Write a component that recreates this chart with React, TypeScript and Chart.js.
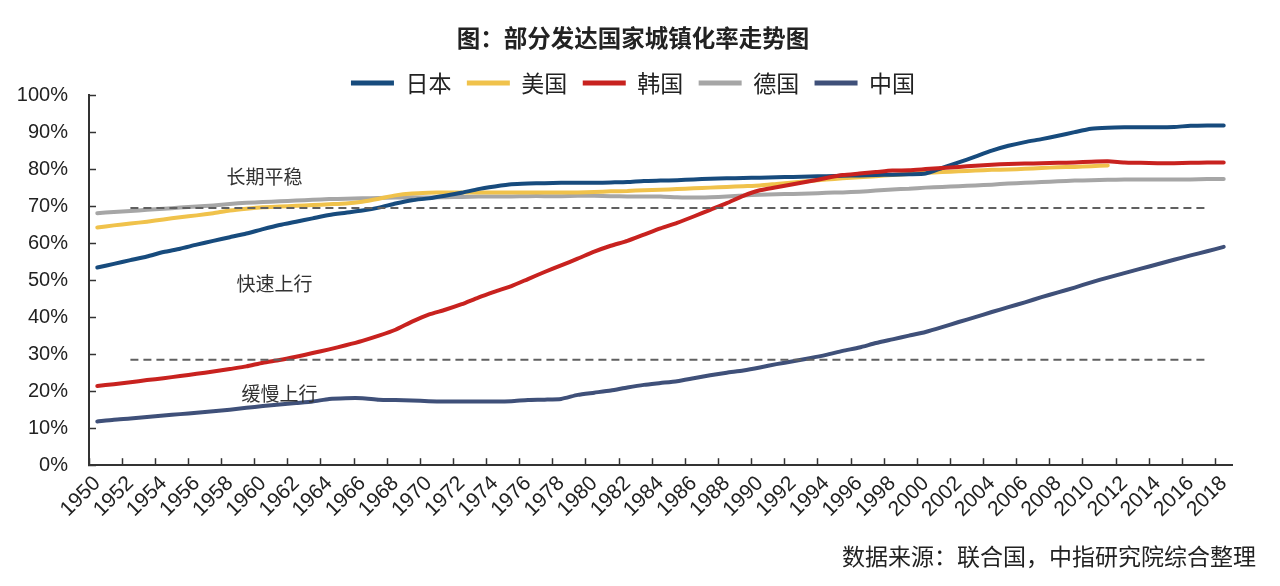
import React, { useEffect, useRef } from 'react';
import { Chart, registerables } from 'chart.js';

Chart.register(...registerables);

const years = [
  '1950', '1951', '1952', '1953', '1954', '1955', '1956', '1957', '1958', '1959',
  '1960', '1961', '1962', '1963', '1964', '1965', '1966', '1967', '1968', '1969',
  '1970', '1971', '1972', '1973', '1974', '1975', '1976', '1977', '1978', '1979',
  '1980', '1981', '1982', '1983', '1984', '1985', '1986', '1987', '1988', '1989',
  '1990', '1991', '1992', '1993', '1994', '1995', '1996', '1997', '1998', '1999',
  '2000', '2001', '2002', '2003', '2004', '2005', '2006', '2007', '2008', '2009',
  '2010', '2011', '2012', '2013', '2014', '2015', '2016', '2017', '2018',
];

const japan = [
  53.4, 54.4, 55.4, 56.4, 57.6, 58.5, 59.6, 60.6, 61.6, 62.6,
  63.8, 64.9, 65.8, 66.7, 67.6, 68.2, 68.8, 69.6, 70.7, 71.6,
  72.1, 72.8, 73.6, 74.6, 75.3, 75.9, 76.1, 76.2, 76.3, 76.3,
  76.3, 76.4, 76.5, 76.8, 76.9, 77.0, 77.2, 77.4, 77.5, 77.6,
  77.7, 77.8, 77.9, 78.0, 78.1, 78.2, 78.3, 78.4, 78.5, 78.6,
  78.8, 80.3, 81.8, 83.4, 85.0, 86.3, 87.3, 88.1, 89.0, 90.0,
  90.9, 91.2, 91.3, 91.3, 91.3, 91.4, 91.7, 91.8, 91.8,
];

const usa = [
  64.2, 64.8, 65.3, 65.8, 66.4, 67.0, 67.5, 68.1, 68.8, 69.3,
  69.7, 69.9, 70.1, 70.3, 70.5, 70.7, 71.2, 72.0, 72.9, 73.4,
  73.6, 73.7, 73.7, 73.7, 73.7, 73.7, 73.7, 73.7, 73.7, 73.7,
  73.8, 74.0, 74.1, 74.3, 74.4, 74.6, 74.8, 75.0, 75.2, 75.4,
  75.6, 76.0, 76.4, 76.8, 77.2, 77.5, 77.8, 78.1, 78.4, 78.7,
  79.0, 79.2, 79.4, 79.6, 79.8, 79.9, 80.1, 80.3, 80.5, 80.6,
  80.8, 81.0, null, null, null, null, null, null, null,
];

const korea = [
  21.4, 21.9, 22.4, 23.0, 23.5, 24.1, 24.7, 25.3, 26.0, 26.7,
  27.7, 28.4, 29.3, 30.3, 31.3, 32.4, 33.6, 35.0, 36.6, 38.8,
  40.7, 42.0, 43.5, 45.3, 46.9, 48.4, 50.3, 52.2, 54.0, 55.8,
  57.7, 59.3, 60.6, 62.3, 64.0, 65.5, 67.2, 69.0, 70.8, 72.8,
  74.3, 75.1, 75.9, 76.7, 77.6, 78.4, 78.8, 79.2, 79.6, 79.7,
  80.0, 80.3, 80.6, 80.9, 81.2, 81.4, 81.5, 81.6, 81.7, 81.8,
  82.0, 82.1, 81.8, 81.7, 81.6, 81.6, 81.7, 81.8, 81.8,
];

const germany = [
  68.1, 68.4, 68.7, 69.0, 69.3, 69.6, 69.9, 70.2, 70.6, 70.9,
  71.1, 71.3, 71.5, 71.7, 71.9, 72.0, 72.1, 72.2, 72.3, 72.4,
  72.3, 72.4, 72.5, 72.6, 72.6, 72.6, 72.7, 72.7, 72.7, 72.8,
  72.8, 72.7, 72.6, 72.6, 72.6, 72.4, 72.3, 72.4, 72.6, 72.9,
  73.1, 73.2, 73.3, 73.4, 73.6, 73.7, 73.9, 74.2, 74.5, 74.7,
  75.0, 75.2, 75.4, 75.6, 75.8, 76.1, 76.3, 76.5, 76.7, 76.9,
  77.0, 77.1, 77.2, 77.2, 77.2, 77.2, 77.2, 77.3, 77.3,
];

const china = [
  11.8, 12.3, 12.6, 13.0, 13.4, 13.8, 14.2, 14.6, 15.0, 15.5,
  16.0, 16.4, 16.8, 17.2, 17.9, 18.1, 18.1, 17.7, 17.6, 17.5,
  17.3, 17.2, 17.2, 17.2, 17.2, 17.3, 17.6, 17.7, 17.9, 19.0,
  19.6, 20.2, 21.0, 21.7, 22.2, 22.7, 23.5, 24.3, 25.0, 25.6,
  26.4, 27.3, 28.1, 28.9, 29.8, 30.9, 31.8, 33.0, 34.0, 35.0,
  36.0, 37.3, 38.7, 40.0, 41.4, 42.7, 44.0, 45.4, 46.7, 48.0,
  49.4, 50.7, 51.9, 53.1, 54.3, 55.5, 56.7, 57.8, 59.0,
];

const seriesNames = ['日本', '美国', '韩国', '德国', '中国'];
const seriesData = [japan, usa, korea, germany, china];
const seriesColors = ['#174b7d', '#f0c24b', '#c8221f', '#a6a6a6', '#3f5079'];
const seriesDrawOrder = [1, 2, 0, 3, 4];

// reference dashed lines: level, first and last year
const refLevels = [69.5, 28.5];
const refFrom = ['1952', '1952'];
const refTo = ['2017', '2017'];

const noteTexts = ['长期平稳', '快速上行', '缓慢上行'];
const noteYears = [1960.1, 1960.7, 1961.0];
const noteValues = [77.8, 49.0, 19.2];

const titleText = '图：部分发达国家城镇化率走势图';
const sourceText = '数据来源：联合国，中指研究院综合整理';

const LATIN = "'Liberation Sans', Arial, 'Noto Sans CJK SC', sans-serif";
const CJK = "'Noto Sans CJK SC', 'Liberation Sans', sans-serif";

const LEFT_PAD = 10;
const RIGHT_GAP = 24;
const LEGEND_HEIGHT = 38.9;
const X_AXIS_HEIGHT = 77.2;
const Y_AXIS_WIDTH = 89 - LEFT_PAD;

const legendHeightPlugin = {
  id: 'legendHeight',
  beforeUpdate(chart: any) {
    const lg = chart.legend;
    if (lg && !lg.__patched) {
      const orig = lg.fit;
      lg.fit = function () {
        orig.call(this);
        this.height = LEGEND_HEIGHT;
      };
      lg.__patched = true;
    }
  },
};

const notesPlugin = {
  id: 'notes',
  afterDatasetsDraw(chart: any) {
    const ctx = chart.ctx;
    const xs = chart.scales.x;
    const ys = chart.scales.y;
    ctx.save();
    ctx.font = `19px ${CJK}`;
    ctx.fillStyle = '#333';
    ctx.textAlign = 'center';
    ctx.textBaseline = 'middle';
    noteTexts.forEach((t, i) => {
      const x = xs.getPixelForValue(noteYears[i] - Number(years[0]));
      const y = ys.getPixelForValue(noteValues[i]);
      ctx.fillText(t, x, y);
    });
    ctx.restore();
  },
};

export default function App() {
  const ref = useRef<HTMLCanvasElement | null>(null);

  useEffect(() => {
    document.body.style.margin = '0';
    const canvas = ref.current;
    if (!canvas) return;

    const lineSets = seriesNames.map((name, i) => ({
      label: name,
      data: seriesData[i],
      borderColor: seriesColors[i],
      backgroundColor: seriesColors[i],
      borderWidth: 4,
      pointRadius: 0,
      pointHoverRadius: 0,
      tension: 0.2,
      borderCapStyle: 'round',
      borderJoinStyle: 'round',
      order: seriesDrawOrder[i],
    }));

    const dashSets = refLevels.map((lvl, i) => ({
      label: '',
      data: [
        { x: refFrom[i], y: lvl },
        { x: refTo[i], y: lvl },
      ],
      borderColor: '#606060',
      backgroundColor: '#606060',
      borderWidth: 2,
      borderDash: [8, 5],
      pointRadius: 0,
      pointHoverRadius: 0,
      order: -1,
    }));

    const chart = new Chart(canvas, {
      type: 'line',
      data: { labels: years, datasets: [...lineSets, ...dashSets] as any },
      options: {
        animation: false,
        responsive: false,
        devicePixelRatio: 1,
        events: [],
        layout: { padding: { top: 0, left: LEFT_PAD, right: RIGHT_GAP, bottom: 0 } },
        plugins: {
          title: {
            display: true,
            text: titleText,
            color: '#222',
            font: { size: 23.5, weight: 'bold', family: CJK },
            padding: { top: 24, bottom: 4 },
          },
          subtitle: {
            display: true,
            position: 'bottom',
            align: 'end',
            text: sourceText,
            color: '#222',
            font: { size: 23, weight: 'normal', family: CJK },
            padding: { top: 0, bottom: 16 },
          },
          legend: {
            display: true,
            position: 'top',
            labels: {
              boxWidth: 43,
              boxHeight: 5,
              padding: 15.4,
              color: '#222',
              font: { size: 23, family: CJK },
              generateLabels: (c: any) =>
                (Chart.defaults.plugins.legend.labels.generateLabels as any)(c)
                  .filter((l: any) => l.text)
                  .sort((a: any, b: any) => a.datasetIndex - b.datasetIndex)
                  .map((l: any) => ({ ...l, lineWidth: 0, fillStyle: l.strokeStyle })),
            },
          },
          tooltip: { enabled: false },
        },
        scales: {
          x: {
            type: 'category',
            offset: true,
            grid: {
              display: true,
              offset: true,
              drawOnChartArea: false,
              drawTicks: true,
              tickLength: -7,
              tickWidth: 1.5,
              tickColor: (ctx: any) => (ctx.index % 2 === 0 ? '#333' : 'rgba(0,0,0,0)'),
            },
            border: { display: true, color: '#333', width: 2 },
            ticks: {
              autoSkip: false,
              minRotation: 45,
              maxRotation: 45,
              padding: 13,
              color: '#222',
              font: { size: 21, family: LATIN },
              callback: function (this: any, val: any, idx: number) {
                return idx % 2 === 0 ? this.getLabelForValue(val) : '';
              },
            },
            afterFit: (s: any) => {
              s.height = X_AXIS_HEIGHT;
            },
          },
          y: {
            min: 0,
            max: 100,
            grid: {
              display: true,
              drawOnChartArea: false,
              drawTicks: true,
              tickLength: -7,
              tickWidth: 1.5,
              tickColor: '#333',
            },
            border: { display: true, color: '#333', width: 2 },
            ticks: {
              stepSize: 10,
              padding: 28,
              color: '#222',
              font: { size: 20, family: LATIN },
              callback: (v: any) => `${v}%`,
            },
            afterFit: (s: any) => {
              s.width = Y_AXIS_WIDTH;
            },
          },
          y2: {
            position: 'right',
            display: true,
            grid: { display: false, drawTicks: false },
            ticks: { display: false },
            border: { display: false },
            afterFit: (s: any) => {
              s.width = RIGHT_GAP;
            },
          },
        },
      } as any,
      plugins: [legendHeightPlugin, notesPlugin],
    });

    return () => chart.destroy();
  }, []);

  return (
    <div style={{ width: 1280, height: 586, background: '#fff' }}>
      <canvas ref={ref} width={1280} height={586} style={{ display: 'block' }} />
    </div>
  );
}
